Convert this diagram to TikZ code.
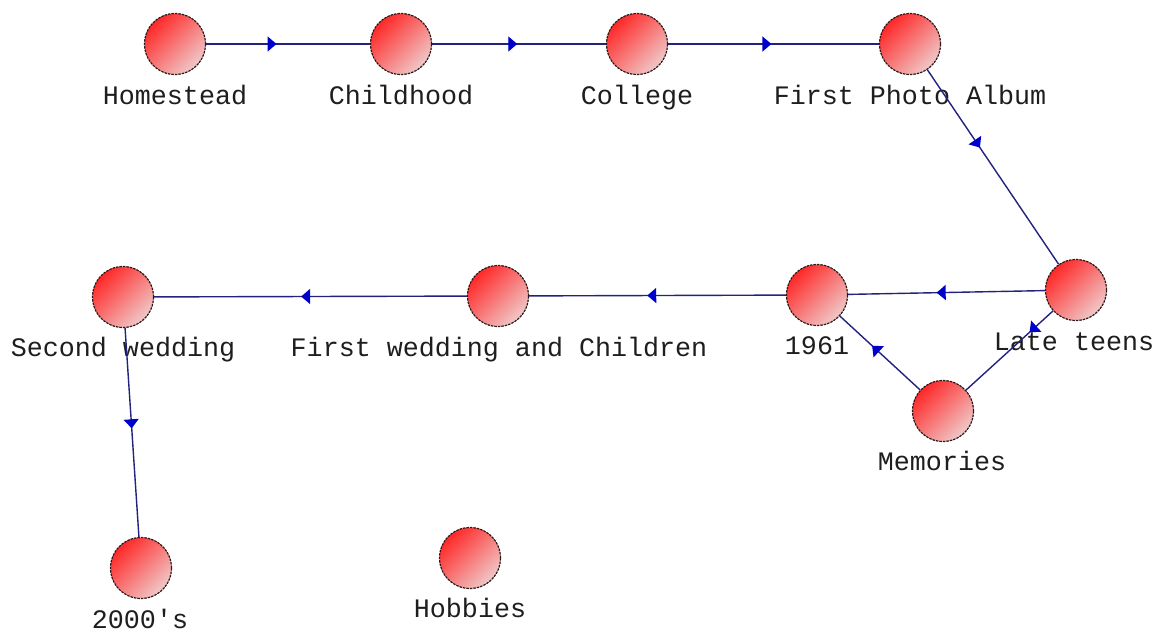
\documentclass[tikz,border=0pt]{standalone}
\usepackage{fontspec}
\setmonofont{Liberation Mono}
\usetikzlibrary{arrows.meta,decorations.markings}
\definecolor{linecol}{RGB}{35,35,125}
\definecolor{tipcol}{RGB}{0,0,205}
\definecolor{redA}{RGB}{255,40,40}
\definecolor{redB}{RGB}{240,200,200}
\definecolor{rimcol}{RGB}{45,25,25}
\definecolor{txtcol}{RGB}{30,30,30}
\begin{document}
\begin{tikzpicture}[x=1pt,y=-1pt,
  state/.style={circle, minimum size=61pt, inner sep=0pt, draw=rimcol,
    line width=1.2pt, dash pattern=on 2.5pt off 1pt,
    top color=redA, bottom color=redB, shading angle=45},
  lbl/.style={font=\ttfamily\fontsize{26.7}{30}\selectfont, text=txtcol,
    anchor=base, inner sep=0pt},
  conn/.style={draw=linecol, line width=1.4pt, postaction={decorate},
    decoration={markings, mark=at position #1 with
      {\arrow[color=tipcol]{Triangle[length=9pt,width=15pt]}}}}
]
\useasboundingbox (0,0) rectangle (1159,634);
\fill[white] (0,0) rectangle (1159,634);

% circles
\node[state] (home) at (175,44) {};
\node[state] (child) at (401,44) {};
\node[state] (coll) at (637,44) {};
\node[state] (album) at (910,44) {};
\node[state] (late) at (1076,290) {};
\node[state] (y61) at (817,295) {};
\node[state] (first) at (498,296) {};
\node[state] (second) at (123,297) {};
\node[state] (mem) at (943,411) {};
\node[state] (y2000) at (141,568) {};
\node[state] (hobby) at (470,558) {};

% labels
\node[lbl] (lhome) at (175,104) {Homestead};
\node[lbl] (lchild) at (401,104) {Childhood};
\node[lbl] (lcoll) at (637,104) {College};
\node[lbl] (lalbum) at (910,104) {First Photo Album};
\node[lbl] (llate) at (1074,350) {Late teens};
\node[lbl] (ly61) at (817,354) {1961};
\node[lbl] (lfirst) at (499,356) {First wedding and Children};
\node[lbl] (lsecond) at (123,356) {Second wedding};
\node[lbl] (lmem) at (942,470) {Memories};
\node[lbl] (ly2000) at (140,628) {2000's};
\node[lbl] (lhobby) at (470,617) {Hobbies};

% connectors
\draw[conn=0.43] (home) -- (child);
\draw[conn=0.49] (child) -- (coll);
\draw[conn=0.49] (coll) -- (album);
\draw[conn=0.40] (album) -- (late);
\draw[conn=0.55] (late) -- (y61);
\draw[conn=0.54] (y61) -- (first);
\draw[conn=0.53] (first) -- (second);
\draw[conn=0.48] (second) -- (y2000);
\draw[conn=0.27] (late) -- (mem);
\draw[conn=0.60] (mem) -- (y61);
\end{tikzpicture}
\end{document}
